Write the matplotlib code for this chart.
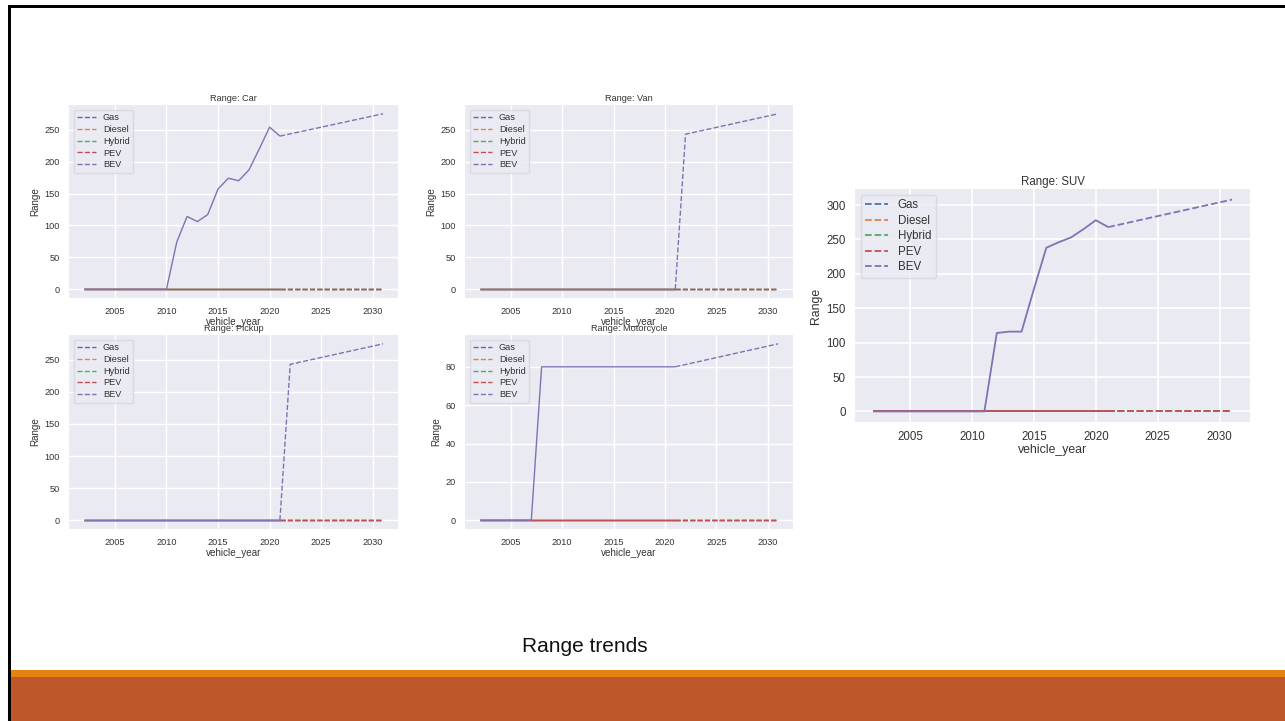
import matplotlib
matplotlib.use("Agg")
import matplotlib.pyplot as plt
import seaborn as sns
from matplotlib.patches import Rectangle

sns.set_style("darkgrid")
plt.rcParams['font.family'] = ['Liberation Sans', 'DejaVu Sans']

# ---------------- data ----------------
FUELS = ["Gas", "Diesel", "Hybrid", "PEV", "BEV"]
COLORS = ["#4C72B0", "#DD8452", "#55A868", "#C44E52", "#8172B3"]

YEARS_ACTUAL = [2002, 2003, 2004, 2005, 2006, 2007, 2008, 2009, 2010, 2011,
                2012, 2013, 2014, 2015, 2016, 2017, 2018, 2019, 2020, 2021]
YEARS_PROJ = [2021, 2022, 2023, 2024, 2025, 2026, 2027, 2028, 2029, 2030, 2031]

ZERO_ACTUAL = [0, 0, 0, 0, 0, 0, 0, 0, 0, 0, 0, 0, 0, 0, 0, 0, 0, 0, 0, 0]
ZERO_PROJ = [0, 0, 0, 0, 0, 0, 0, 0, 0, 0, 0]

CAR_BEV_ACTUAL = [0, 0, 0, 0, 0, 0, 0, 0, 0, 74, 114, 106, 117, 157, 174, 170, 187, 220, 254, 240]
CAR_BEV_PROJ = [240, 243.5, 247, 250.5, 254, 257.5, 261, 264.5, 268, 271.5, 275]

VAN_BEV_ACTUAL = [0, 0, 0, 0, 0, 0, 0, 0, 0, 0, 0, 0, 0, 0, 0, 0, 0, 0, 0, 0]
VAN_BEV_PROJ = [0, 243, 246.6, 250.1, 253.7, 257.2, 260.8, 264.3, 267.9, 271.4, 275]

PICKUP_BEV_ACTUAL = [0, 0, 0, 0, 0, 0, 0, 0, 0, 0, 0, 0, 0, 0, 0, 0, 0, 0, 0, 0]
PICKUP_BEV_PROJ = [0, 243, 246.6, 250.1, 253.7, 257.2, 260.8, 264.3, 267.9, 271.4, 275]

MOTO_BEV_ACTUAL = [0, 0, 0, 0, 0, 0, 80, 80, 80, 80, 80, 80, 80, 80, 80, 80, 80, 80, 80, 80]
MOTO_BEV_PROJ = [80, 81.2, 82.4, 83.6, 84.8, 86, 87.2, 88.4, 89.6, 90.8, 92]

SUV_BEV_ACTUAL = [0, 0, 0, 0, 0, 0, 0, 0, 0, 0, 114, 116, 116, 178, 238, 246, 253, 265, 278, 268]
SUV_BEV_PROJ = [268, 272, 276, 280, 284, 288, 292, 296, 300, 304, 308]

PANELS = [
    ("Car", CAR_BEV_ACTUAL, CAR_BEV_PROJ, (69, 105, 398, 298), 6.6, [0, 50, 100, 150, 200, 250]),
    ("Van", VAN_BEV_ACTUAL, VAN_BEV_PROJ, (465, 105, 793, 298), 6.6, [0, 50, 100, 150, 200, 250]),
    ("Pickup", PICKUP_BEV_ACTUAL, PICKUP_BEV_PROJ, (69, 335, 398, 529), 6.6, [0, 50, 100, 150, 200, 250]),
    ("Motorcycle", MOTO_BEV_ACTUAL, MOTO_BEV_PROJ, (465, 335, 793, 529), 6.6, [0, 20, 40, 60, 80]),
    ("SUV", SUV_BEV_ACTUAL, SUV_BEV_PROJ, (855, 189, 1250, 422), 8.3, [0, 50, 100, 150, 200, 250, 300]),
]

W, H = 1285, 721
fig = plt.figure(figsize=(W / 100, H / 100), dpi=100)
fig.patch.set_facecolor("white")

for name, bev_act, bev_proj, (x0, y0, x1, y1), fs, yt in PANELS:
    ax = fig.add_axes([x0 / W, 1 - y1 / H, (x1 - x0) / W, (y1 - y0) / H])
    ax.set_facecolor("#EAEAF2")
    lw = 1.0 if fs < 8 else 1.3
    for fuel, col in zip(FUELS, COLORS):
        act = bev_act if fuel == "BEV" else ZERO_ACTUAL
        ax.plot(YEARS_ACTUAL, act, color=col, lw=lw, solid_capstyle="butt")
    for fuel, col in zip(FUELS, COLORS):
        proj = bev_proj if fuel == "BEV" else ZERO_PROJ
        ax.plot(YEARS_PROJ, proj, color=col, lw=lw, ls="--", label=fuel)
    ax.set_xticks([2005, 2010, 2015, 2020, 2025, 2030])
    ax.set_yticks(yt)
    ax.tick_params(labelsize=fs, colors="#333333", pad=3)
    ax.grid(True, color="white", lw=1.0 if fs < 8 else 1.2)
    for s in ax.spines.values():
        s.set_visible(False)
    ax.set_title(f"Range: {name}", fontsize=fs, color="#333333", pad=3)
    ax.set_xlabel("vehicle_year", fontsize=fs + 0.5, color="#333333", labelpad=1)
    ax.set_ylabel("Range", fontsize=fs + 0.5, color="#333333", labelpad=3)
    leg = ax.legend(loc="upper left", fontsize=fs, labelspacing=0.3,
                    handlelength=2.0, borderpad=0.4, framealpha=0.8,
                    facecolor="#EAEAF2", edgecolor="#D5D5DD")
    for t in leg.get_texts():
        t.set_color("#333333")

# slide decorations in figure pixel coordinates
def px_rect(x0, y0, x1, y1, color):
    fig.add_artist(Rectangle((x0 / W, 1 - y1 / H), (x1 - x0) / W, (y1 - y0) / H,
                             transform=fig.transFigure, facecolor=color,
                             edgecolor="none", zorder=5))

px_rect(10, 670, W, 677, "#E4830F")
px_rect(10, 677, W, H, "#BE582B")
px_rect(8, 5, W, 7.5, "#000000")
px_rect(8, 5, 10.5, H, "#000000")

fig.text(585 / W, 1 - 647 / H, "Range trends", ha="center", va="center",
         fontsize=15, color="#111111",
         family=["Liberation Sans Narrow", "Liberation Sans", "DejaVu Sans"])

fig.savefig("out.png", dpi=100)
